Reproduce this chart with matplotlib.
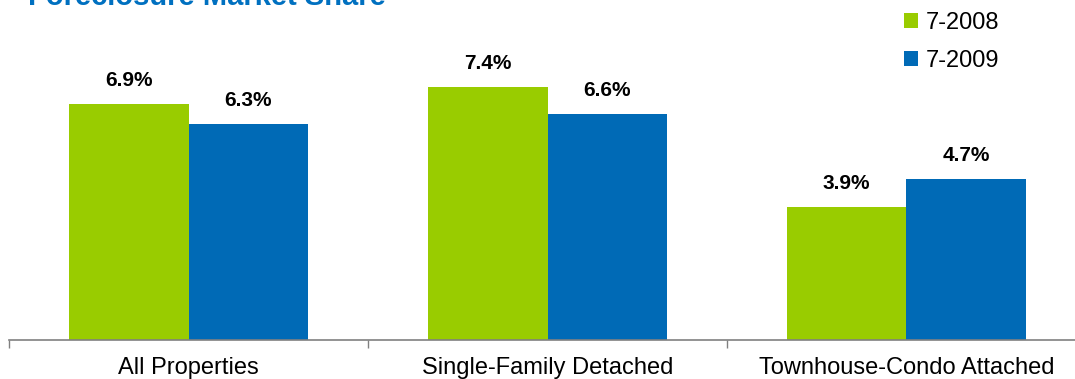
import matplotlib.pyplot as plt
import numpy as np

plt.rcParams["font.family"] = ["Liberation Sans", "DejaVu Sans"]

categories = ["All Properties", "Single-Family Detached", "Townhouse-Condo Attached"]
series_names = ["7-2008", "7-2009"]
share_2008 = [6.9, 7.4, 3.9]
share_2009 = [6.3, 6.6, 4.7]
colors = ["#99CC00", "#006AB6"]

W, H = 1075, 379
fig = plt.figure(figsize=(W / 100, H / 100), dpi=100)
ax = fig.add_axes([9 / W, 39 / H, 1077 / W, 325 / H])

x = np.arange(len(categories))
bw = 0.334
b1 = ax.bar(x - bw / 2, share_2008, bw, color=colors[0], label=series_names[0], zorder=2)
b2 = ax.bar(x + bw / 2, share_2009, bw, color=colors[1], label=series_names[1], zorder=2)

for bars, vals in ((b1, share_2008), (b2, share_2009)):
    for rect, v in zip(bars, vals):
        ax.annotate(
            f"{v:.1f}%",
            (rect.get_x() + rect.get_width() / 2, rect.get_height()),
            xytext=(0, 13),
            textcoords="offset points",
            ha="center",
            va="baseline",
            fontsize=15,
            fontweight="bold",
            color="black",
        )

ax.set_xlim(-0.5, 2.5)
ax.set_ylim(0, 9.5)

# boundary ticks (major) and category labels (minor)
ax.set_xticks(np.arange(len(categories) + 1) - 0.5)
ax.set_xticklabels([])
ax.tick_params(axis="x", which="major", length=6, width=1, color="#808080", direction="out")
ax.set_xticks(x, minor=True)
ax.set_xticklabels(categories, minor=True, fontsize=17)
ax.tick_params(axis="x", which="minor", length=0, pad=12)
ax.set_yticks([])

for side in ("top", "right", "left"):
    ax.spines[side].set_visible(False)
ax.spines["bottom"].set_color("#808080")
ax.spines["bottom"].set_linewidth(1.2)

fig.text(28 / W, (H - 5) / H, "Foreclosure Market Share", fontsize=21,
         fontweight="bold", color="#0070C0", ha="left", va="baseline")

fig.legend(
    handles=[b1, b2],
    labels=series_names,
    loc="upper left",
    bbox_to_anchor=(904 / W, (H - 12) / H),
    frameon=False,
    fontsize=17,
    handlelength=0.6,
    handleheight=0.6,
    handletextpad=0.3,
    labelspacing=0.66,
    borderpad=0,
    borderaxespad=0,
)

fig.savefig("out.png", dpi=100)
